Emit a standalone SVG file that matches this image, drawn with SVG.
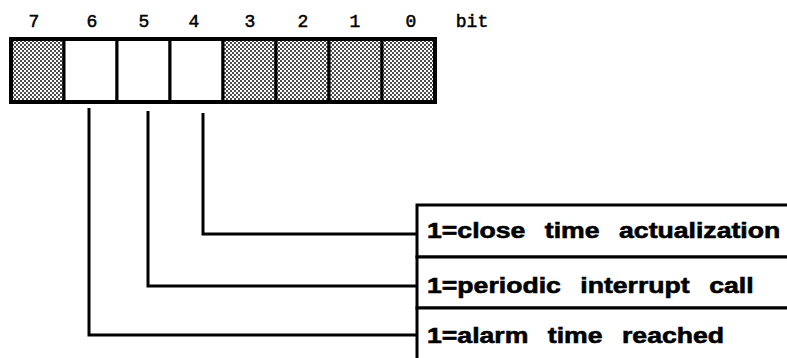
<svg xmlns="http://www.w3.org/2000/svg" width="787" height="358" viewBox="0 0 787 358">
  <defs>
    <pattern id="stipple" width="4" height="4" patternUnits="userSpaceOnUse">
      <rect width="4" height="4" fill="#ffffff"/>
      <circle cx="1" cy="1" r="0.95" fill="#000"/>
      <circle cx="3" cy="3" r="0.95" fill="#000"/>
    </pattern>
    <style>
      .num { font-family: "Liberation Mono", "Courier New", monospace; font-size: 18px; fill: #000; stroke: #000; stroke-width: 0.5; text-anchor: middle; }
      .cell { stroke: #000; stroke-width: 3; }
      .shaded { fill: url(#stipple); }
      .empty { fill: #fff; }
      .frame { fill: none; stroke: #000; stroke-width: 4; }
      .conn { fill: none; stroke: #000; stroke-width: 3; stroke-linejoin: miter; }
      .row { fill: #fff; stroke: #000; stroke-width: 3; }
      .lbl { font-family: "Liberation Sans", Arial, Helvetica, sans-serif; font-weight: bold; font-size: 22px; fill: #000; stroke: #000; stroke-width: 0.6; word-spacing: 10px; }
    </style>
  </defs>
  <rect width="787" height="358" fill="#fff"/>

  <g id="bit-labels">
    <text class="num" x="34" y="27">7</text>
    <text class="num" x="92" y="27">6</text>
    <text class="num" x="144" y="27">5</text>
    <text class="num" x="194" y="27">4</text>
    <text class="num" x="250" y="27">3</text>
    <text class="num" x="303" y="27">2</text>
    <text class="num" x="355" y="27">1</text>
    <text class="num" x="411" y="27">0</text>
    <text class="num" x="472" y="27">bit</text>
  </g>

  <g id="register">
    <rect id="bit7" class="cell shaded" x="11" y="39" width="53" height="63"/>
    <rect id="bit6" class="cell empty" x="64" y="39" width="53" height="63"/>
    <rect id="bit5" class="cell empty" x="117" y="39" width="53" height="63"/>
    <rect id="bit4" class="cell empty" x="170" y="39" width="53" height="63"/>
    <rect id="bit3" class="cell shaded" x="223" y="39" width="53" height="63"/>
    <rect id="bit2" class="cell shaded" x="276" y="39" width="53" height="63"/>
    <rect id="bit1" class="cell shaded" x="329" y="39" width="53" height="63"/>
    <rect id="bit0" class="cell shaded" x="382" y="39" width="53" height="63"/>
    <rect class="frame" x="11" y="39" width="424" height="63"/>
  </g>

  <g id="connectors">
    <polyline class="conn" points="203,113 203,234 417,234"/>
    <polyline class="conn" points="148,111 148,286 417,286"/>
    <polyline class="conn" points="89,108 89,335 417,335"/>
  </g>

  <g id="desc-bit4">
    <rect class="row" x="417" y="205" width="380" height="52"/>
    <text class="lbl" transform="translate(427,238) scale(1.21,1)">1=close time actualization</text>
  </g>
  <g id="desc-bit5">
    <rect class="row" x="417" y="257" width="380" height="51"/>
    <text class="lbl" transform="translate(427,293) scale(1.21,1)">1=periodic interrupt call</text>
  </g>
  <g id="desc-bit6">
    <rect class="row" x="417" y="308" width="380" height="60"/>
    <text class="lbl" transform="translate(427,343) scale(1.21,1)">1=alarm time reached</text>
  </g>
</svg>
